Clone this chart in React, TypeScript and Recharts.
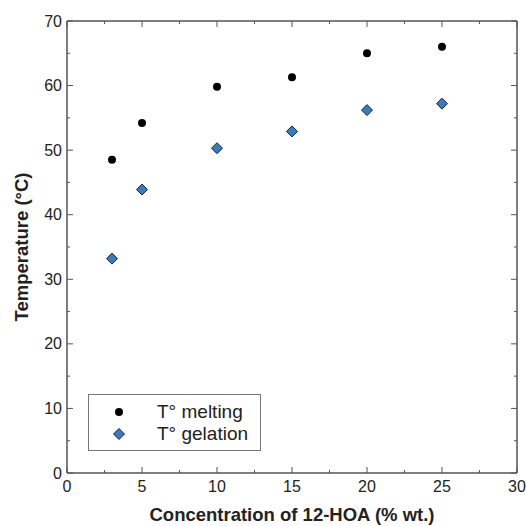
import React from 'react';
import { ScatterChart, Scatter, XAxis, YAxis } from 'recharts';

const concentration = [3, 5, 10, 15, 20, 25];
const meltingTemp = [48.5, 54.2, 59.8, 61.3, 65.0, 66.0];
const gelationTemp = [33.2, 43.9, 50.3, 52.9, 56.2, 57.2];
const seriesNames = ['T° melting', 'T° gelation'];

const xTicks = [0, 2.5, 5, 7.5, 10, 12.5, 15, 17.5, 20, 22.5, 25, 27.5, 30];
const yTicks = [0, 5, 10, 15, 20, 25, 30, 35, 40, 45, 50, 55, 60, 65, 70];

const meltingData = concentration.map((c, i) => ({ x: c, y: meltingTemp[i] }));
const gelationData = concentration.map((c, i) => ({ x: c, y: gelationTemp[i] }));

const FONT = '"Liberation Sans", Arial, sans-serif';
const AXIS = '#555';
const TEXT = '#222';
const BLUE = '#3a7bbf';

const BottomTick = (props: any) => {
  const { x, y, payload } = props;
  const v = payload.value;
  const major = v % 5 === 0;
  return (
    <g>
      <line x1={x} x2={x} y1={y} y2={y - (major ? 6 : 3)} stroke={AXIS} strokeWidth={1} />
      {major && (
        <text x={x} y={y + 13} textAnchor="middle" dominantBaseline="central" fontSize={16} fill={TEXT} fontFamily={FONT}>
          {v}
        </text>
      )}
    </g>
  );
};

const TopTick = (props: any) => {
  const { x, y, payload } = props;
  const major = payload.value % 5 === 0;
  return <line x1={x} x2={x} y1={y} y2={y + (major ? 6 : 3)} stroke={AXIS} strokeWidth={1} />;
};

const LeftTick = (props: any) => {
  const { x, y, payload } = props;
  const v = payload.value;
  const major = v % 10 === 0;
  return (
    <g>
      <line x1={x} x2={x + (major ? 6 : 3)} y1={y} y2={y} stroke={AXIS} strokeWidth={1} />
      {major && (
        <text x={x - 5} y={y} textAnchor="end" dominantBaseline="central" fontSize={16} fill={TEXT} fontFamily={FONT}>
          {v}
        </text>
      )}
    </g>
  );
};

const RightTick = (props: any) => {
  const { x, y, payload } = props;
  const major = payload.value % 10 === 0;
  return <line x1={x} x2={x - (major ? 6 : 3)} y1={y} y2={y} stroke={AXIS} strokeWidth={1} />;
};

const CircleShape = (props: any) => {
  const { cx, cy } = props;
  if (cx == null || cy == null) return null;
  return <circle cx={cx} cy={cy} r={4} fill="#000" />;
};

const DiamondShape = (props: any) => {
  const { cx, cy } = props;
  if (cx == null || cy == null) return null;
  const r = 5.5;
  return (
    <polygon
      points={`${cx},${cy - r} ${cx + r},${cy} ${cx},${cy + r} ${cx - r},${cy}`}
      fill={BLUE}
      stroke="#1a2230"
      strokeWidth={1}
    />
  );
};

const LegendBox = () => (
  <div
    style={{
      position: 'absolute',
      left: 88,
      top: 394,
      border: '1px solid #777',
      background: '#fff',
      width: 173,
      height: 57,
      boxSizing: 'border-box',
      fontFamily: FONT,
      fontSize: 19,
      color: TEXT,
      paddingTop: 6,
    }}
  >
    {seriesNames.map((name, i) => (
      <div key={i} style={{ display: 'flex', alignItems: 'center', height: 22 }}>
        <svg width={60} height={20} style={{ display: 'block' }}>
          {i === 0 ? (
            <circle cx={30} cy={10} r={4} fill="#000" />
          ) : (
            <polygon points="30,4.5 35.5,10 30,15.5 24.5,10" fill={BLUE} stroke="#1a2230" strokeWidth={1} />
          )}
        </svg>
        <span style={{ marginLeft: 8 }}>{name}</span>
      </div>
    ))}
  </div>
);

export default function App() {
  return (
    <div style={{ position: 'absolute', left: 0, top: 0, width: 526, height: 526, background: '#fff' }}>
      <ScatterChart width={526} height={526} margin={{ top: 20, right: 8, bottom: 0, left: 0 }}>
        <XAxis
          xAxisId="bottom"
          type="number"
          dataKey="x"
          domain={[0, 30]}
          ticks={xTicks}
          interval={0}
          orientation="bottom"
          height={53}
          tickSize={0}
          tickMargin={0}
          tickLine={false}
          axisLine={{ stroke: AXIS, strokeWidth: 1.5 }}
          tick={<BottomTick />}
          label={{
            value: 'Concentration of 12-HOA (% wt.)',
            position: 'insideBottom',
            offset: 5,
            style: { fontFamily: FONT, fontSize: 18.5, fontWeight: 'bold', fill: TEXT },
          }}
        />
        <XAxis
          xAxisId="top"
          type="number"
          dataKey="x"
          domain={[0, 30]}
          ticks={xTicks}
          interval={0}
          orientation="top"
          height={1}
          tickSize={0}
          tickMargin={0}
          tickLine={false}
          axisLine={{ stroke: AXIS, strokeWidth: 1.5 }}
          tick={<TopTick />}
        />
        <YAxis
          yAxisId="left"
          type="number"
          dataKey="y"
          domain={[0, 70]}
          ticks={yTicks}
          interval={0}
          orientation="left"
          width={67}
          tickSize={0}
          tickMargin={0}
          tickLine={false}
          axisLine={{ stroke: AXIS, strokeWidth: 1.5 }}
          tick={<LeftTick />}
          label={{
            value: 'Temperature (°C)',
            position: 'insideLeft',
            angle: -90,
            offset: 21,
            style: { fontFamily: FONT, fontSize: 18.5, fontWeight: 'bold', fill: TEXT, textAnchor: 'middle' },
          }}
        />
        <YAxis
          yAxisId="right"
          type="number"
          dataKey="y"
          domain={[0, 70]}
          ticks={yTicks}
          interval={0}
          orientation="right"
          width={1}
          tickSize={0}
          tickMargin={0}
          tickLine={false}
          axisLine={{ stroke: AXIS, strokeWidth: 1.5 }}
          tick={<RightTick />}
        />
        <Scatter
          name={seriesNames[0]}
          data={meltingData}
          xAxisId="bottom"
          yAxisId="left"
          fill="#000"
          shape={<CircleShape />}
          isAnimationActive={false}
        />
        <Scatter
          name={seriesNames[1]}
          data={gelationData}
          xAxisId="bottom"
          yAxisId="left"
          fill={BLUE}
          shape={<DiamondShape />}
          isAnimationActive={false}
        />
        <Scatter data={meltingData} xAxisId="top" yAxisId="right" shape={() => null} isAnimationActive={false} />
      </ScatterChart>
      <LegendBox />
    </div>
  );
}
